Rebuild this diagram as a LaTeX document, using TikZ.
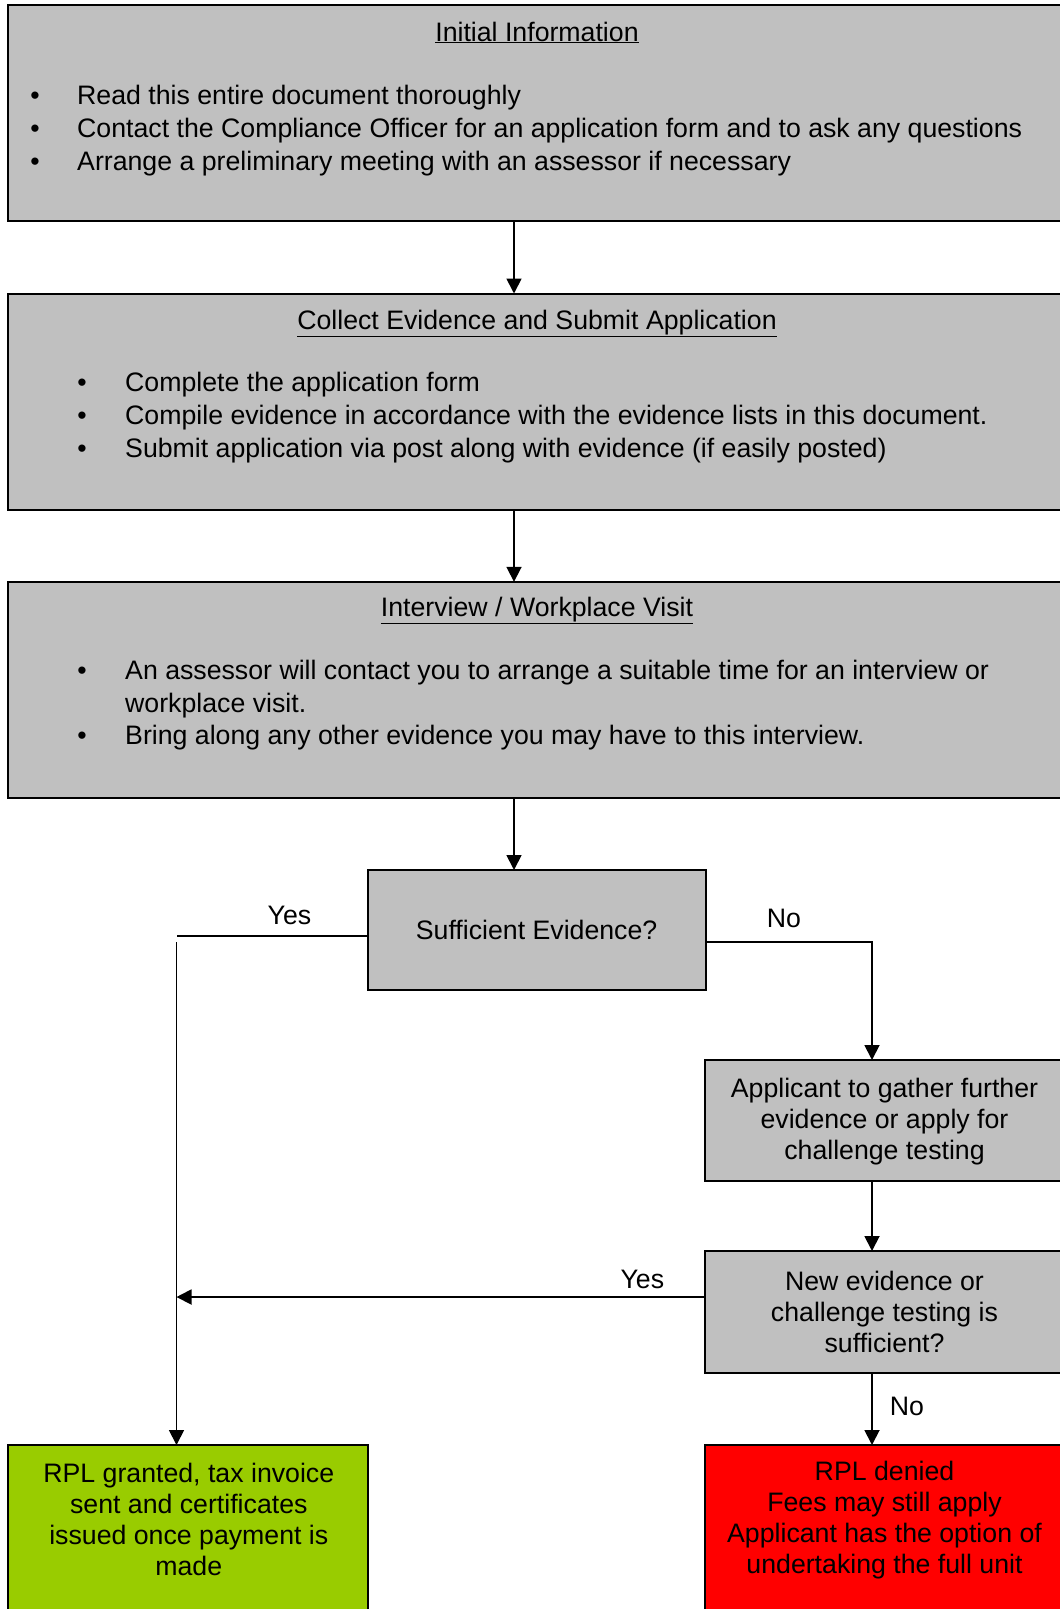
\documentclass[tikz,border=0pt]{standalone}
\usepackage{fontspec}
\setmainfont{Liberation Sans}
\usetikzlibrary{arrows.meta}
\definecolor{boxgray}{HTML}{C0C0C0}
\definecolor{boxgreen}{HTML}{99CC00}
\definecolor{boxred}{HTML}{FF0000}
\tikzset{
  panel/.style={draw=black, line width=2pt, fill=boxgray, anchor=north west, inner sep=0pt, outer sep=0pt},
  txt/.style={font=\fontsize{26.7}{32.8}\selectfont, inner sep=0pt},
  ctxt/.style={font=\fontsize{26.7}{30.8}\selectfont, inner sep=0pt, align=center},
  conn/.style={line width=1.8pt, draw=black},
  arr/.style={conn, -{Triangle[length=15pt,width=15pt]}}
}
\begin{document}
\begin{tikzpicture}[x=1pt,y=-1pt]
\clip (0,0) rectangle (1060,1609);
\fill[white] (0,0) rectangle (1060,1609);
% main panels
\node[panel, minimum width=1058pt, minimum height=216pt] (b1) at (8,5) {};
\node[panel, minimum width=1058pt, minimum height=216pt] (b2) at (8,293.5) {};
\node[panel, minimum width=1058pt, minimum height=216pt] (b3) at (8,581.8) {};
% box 1 text
\node[txt, anchor=base] (t1) at (537,41) {\underline{Initial Information}};
\node[txt, anchor=base] (t1b1) at (35,104.4) {•};
\node[txt, anchor=base west] (t1l1) at (77,104.4) {Read this entire document thoroughly};
\node[txt, anchor=base] (t1b2) at (35,137.3) {•};
\node[txt, anchor=base west] (t1l2) at (77,137.3) {Contact the Compliance Officer for an application form and to ask any questions};
\node[txt, anchor=base] (t1b3) at (35,170.1) {•};
\node[txt, anchor=base west] (t1l3) at (77,170.1) {Arrange a preliminary meeting with an assessor if necessary};
% box 2 text
\node[txt, anchor=base] (t2) at (537,329) {\underline{Collect Evidence and Submit Application}};
\node[txt, anchor=base] (t2b1) at (82,391.7) {•};
\node[txt, anchor=base west] (t2l1) at (125,391.7) {Complete the application form};
\node[txt, anchor=base] (t2b2) at (82,424.6) {•};
\node[txt, anchor=base west] (t2l2) at (125,424.6) {Compile evidence in accordance with the evidence lists in this document.};
\node[txt, anchor=base] (t2b3) at (82,457.4) {•};
\node[txt, anchor=base west] (t2l3) at (125,457.4) {Submit application via post along with evidence (if easily posted)};
% box 3 text
\node[txt, anchor=base] (t3) at (537,616.5) {\underline{Interview / Workplace Visit}};
\node[txt, anchor=base] (t3b1) at (82,679) {•};
\node[txt, anchor=base west] (t3l1) at (125,679) {An assessor will contact you to arrange a suitable time for an interview or};
\node[txt, anchor=base west] (t3l2) at (125,712) {workplace visit.};
\node[txt, anchor=base] (t3b2) at (82,744.7) {•};
\node[txt, anchor=base west] (t3l3) at (125,744.7) {Bring along any other evidence you may have to this interview.};
% decision and following boxes
\node[panel, minimum width=337.6pt, minimum height=120pt] (dec) at (368.4,870) {};
\node[ctxt] (dect) at (536.6,930) {Sufficient Evidence?};
\node[panel, minimum width=361pt, minimum height=121pt] (app) at (705,1060) {};
\node[ctxt] (appt) at (884.5,1121.5) {Applicant to gather further\\evidence or apply for\\challenge testing};
\node[panel, minimum width=361pt, minimum height=122pt] (new) at (705,1251) {};
\node[ctxt] (newt) at (884.5,1312) {New evidence or\\challenge testing is\\sufficient?};
\node[panel, fill=boxgreen, minimum width=360.2pt, minimum height=180pt] (ok) at (8.2,1445) {};
\node[ctxt] (okt) at (188.8,1519.5) {RPL granted, tax invoice\\sent and certificates\\issued once payment is\\made};
\node[panel, fill=boxred, minimum width=361pt, minimum height=180pt] (no) at (705,1445) {};
\node[ctxt] (not) at (884.5,1520) {RPL denied\\Fees may still apply\\Applicant has the option of\\undertaking the full unit};
% connectors
\coordinate (ax) at (514,0);
\draw[arr] (b1.south -| ax) -- (b2.north -| ax);
\draw[arr] (b2.south -| ax) -- (b3.north -| ax);
\draw[arr] (b3.south -| ax) -- (dec.north -| ax);
\coordinate (yc) at (176.5,935.8);
\coordinate (ys) at (176.5,942);
\draw[conn] (dec.west |- yc) -- (yc);
\draw[arr] (ys) -- (ok.north -| ys);
\coordinate (nc) at (872,942);
\draw[arr] (dec.east |- nc) -- (nc) -- (app.north -| nc);
\draw[arr] (app.south -| nc) -- (new.north -| nc);
\coordinate (y2) at (176.5,1297);
\draw[arr] (new.west |- y2) -- (y2);
\draw[arr] (new.south -| nc) -- (no.north -| nc);
% labels
\node[txt] (lyes1) at (289.4,915.3) {Yes};
\node[txt] (lno1) at (784,918.4) {No};
\node[txt] (lyes2) at (642.3,1279.6) {Yes};
\node[txt] (lno2) at (907,1406.8) {No};
\end{tikzpicture}
\end{document}
